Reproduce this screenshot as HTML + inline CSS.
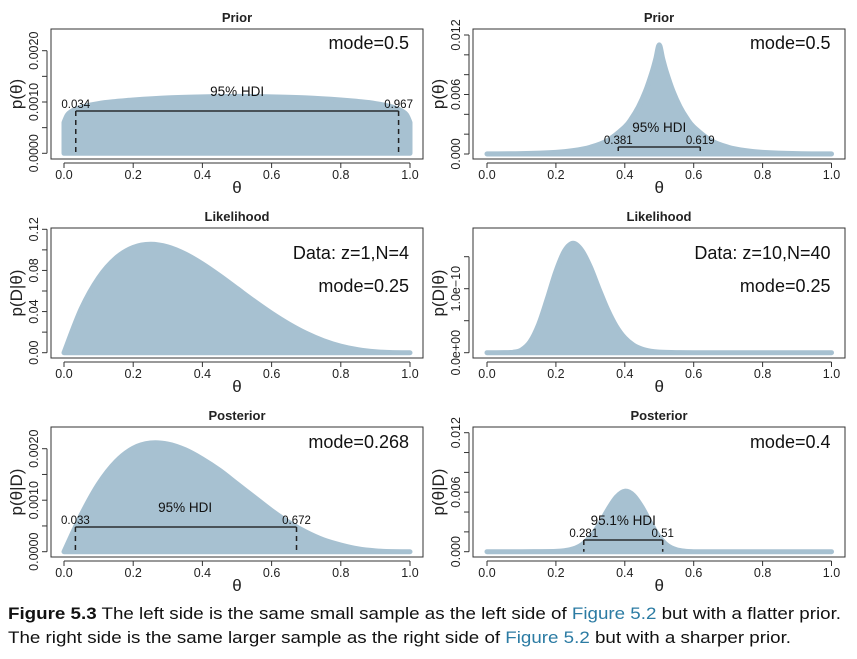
<!DOCTYPE html>
<html><head><meta charset="utf-8">
<style>
html,body{margin:0;padding:0;background:#fff;}
svg{display:block;font-family:"Liberation Sans",Arial,sans-serif;}
</style></head>
<body>
<svg id="fig" width="857" height="659" viewBox="0 0 857 659" xmlns="http://www.w3.org/2000/svg">
<text x="8" y="619" font-size="17" fill="#111" textLength="833" lengthAdjust="spacingAndGlyphs"><tspan font-weight="bold">Figure 5.3</tspan>  The left side is the same small sample as the left side of <tspan fill="#2b7ba3">Figure 5.2</tspan> but with a flatter prior.</text>
<text x="8" y="643" font-size="17" fill="#111" textLength="783" lengthAdjust="spacingAndGlyphs">The right side is the same larger sample as the right side of <tspan fill="#2b7ba3">Figure 5.2</tspan> but with a sharper prior.</text>
</svg>
<script>
// ---- data ----
const thetaPriorL = [0,0.01,0.025,0.05,0.1,0.15,0.2,0.3,0.4,0.5,0.6,0.7,0.8,0.85,0.9,0.95,0.975,0.99,1];
const densPriorL = [0.0006,0.00075,0.00083,0.0009,0.00097,0.00101,0.00104,0.00108,0.0011,0.00111,0.0011,0.00108,0.00104,0.00101,0.00097,0.0009,0.00083,0.00075,0.0006];
const thetaPriorR = [0,0.1,0.2,0.25,0.3,0.35,0.4,0.42,0.44,0.46,0.48,0.49,0.5,0.51,0.52,0.54,0.56,0.58,0.6,0.65,0.7,0.75,0.8,0.9,1];
const densPriorR = [0.00001,0.00004,0.00017,0.00034,0.00068,0.00136,0.00273,0.00361,0.00478,0.00632,0.00835,0.0096,0.011,0.0096,0.00835,0.00632,0.00478,0.00361,0.00273,0.00136,0.00068,0.00034,0.00017,0.00004,0.00001];
const thetaLikL = [0,0.05,0.1,0.15,0.2,0.25,0.3,0.35,0.4,0.45,0.5,0.55,0.6,0.65,0.7,0.75,0.8,0.85,0.9,0.95,1];
const densLikL = [0,0.0429,0.0729,0.0921,0.1024,0.1055,0.1029,0.0961,0.0864,0.0749,0.0625,0.0501,0.0384,0.0279,0.0189,0.0117,0.0064,0.0029,0.0009,0.0001,0];
const thetaLikR = [0,0.05,0.075,0.1,0.125,0.15,0.175,0.2,0.225,0.25,0.275,0.3,0.325,0.35,0.375,0.4,0.425,0.45,0.475,0.5,0.55,0.6,0.8,1];
const densLikR = [0,0.0002e-10,0.0055e-10,0.0426e-10,0.17e-10,0.442e-10,0.842e-10,1.27e-10,1.59e-10,1.71e-10,1.60e-10,1.34e-10,0.999e-10,0.676e-10,0.415e-10,0.232e-10,0.119e-10,0.0556e-10,0.0236e-10,0.0091e-10,0.001e-10,0,0,0];
const thetaPostL = [0,0.05,0.1,0.15,0.2,0.25,0.3,0.35,0.4,0.45,0.5,0.55,0.6,0.65,0.7,0.75,0.8,0.85,0.9,0.95,1];
const densPostL = [0,0.00072,0.00132,0.00175,0.00201,0.00211,0.00209,0.00198,0.0018,0.00158,0.00132,0.00106,0.0008,0.00057,0.00038,0.00023,0.00013,0.000055,0.000016,0.000002,0];
const thetaPostR = [0,0.1,0.15,0.2,0.225,0.25,0.275,0.3,0.325,0.35,0.375,0.4,0.425,0.45,0.475,0.5,0.525,0.55,0.575,0.6,0.7,1];
const densPostR = [0,0,0.000005,0.00003,0.0001,0.00028,0.0007,0.0015,0.0027,0.0042,0.0055,0.0061,0.0057,0.0045,0.0029,0.0015,0.0006,0.0002,0.00005,0,0,0];
const xTicks = [0,0.2,0.4,0.6,0.8,1];
const xTickLabels = ["0.0","0.2","0.4","0.6","0.8","1.0"];

const NS="http://www.w3.org/2000/svg";
const svg=document.getElementById('fig');
const FILL="#a7c1d1";
function el(tag,attrs,parent){const e=document.createElementNS(NS,tag);for(const k in attrs)e.setAttribute(k,attrs[k]);(parent||svg).appendChild(e);return e;}
function txt(s,attrs,parent){const e=el('text',attrs,parent);e.textContent=s;return e;}

const panels=[
 {name:'prior-left',title:'Prior',bx:51,by:29,x0:64,x1:410,y0v:153.3,yref:50.7,yrefv:0.002,yt:[0,0.0005,0.001,0.0015,0.002],yl:[[0,'0.0000'],[0.001,'0.0010'],[0.002,'0.0020']],ylab:'p(θ)',th:thetaPriorL,d:densPriorL,
  notes:[['mode=0.5',42]],hdi:{lo:0.034,hi:0.967,y:111,lab:'95% HDI',loT:'0.034',hiT:'0.967',dash:true}},
 {name:'prior-right',title:'Prior',bx:473,by:29,x0:487,x1:831.5,y0v:154,yref:35,yrefv:0.012,yt:[0,0.002,0.004,0.006,0.008,0.01,0.012],yl:[[0,'0.000'],[0.006,'0.006'],[0.012,'0.012']],ylab:'p(θ)',th:thetaPriorR,d:densPriorR,
  notes:[['mode=0.5',42]],hdi:{lo:0.381,hi:0.619,y:147,lab:'95% HDI',loT:'0.381',hiT:'0.619',dash:false}},
 {name:'likelihood-left',title:'Likelihood',bx:51,by:228,x0:64,x1:410,y0v:352.7,yref:229.3,yrefv:0.12,yt:[0,0.02,0.04,0.06,0.08,0.1,0.12],yl:[[0,'0.00'],[0.04,'0.04'],[0.08,'0.08'],[0.12,'0.12']],ylab:'p(D|θ)',th:thetaLikL,d:densLikL,
  notes:[['Data: z=1,N=4',252],['mode=0.25',285]]},
 {name:'likelihood-right',title:'Likelihood',bx:473,by:228,x0:487,x1:831.5,y0v:352.7,yref:288.7,yrefv:1e-10,yt:[0,0.5e-10,1e-10,1.5e-10],yl:[[0,'0.0e+00'],[1e-10,'1.0e−10']],ylab:'p(D|θ)',th:thetaLikR,d:densLikR,
  notes:[['Data: z=10,N=40',252],['mode=0.25',285]]},
 {name:'posterior-left',title:'Posterior',bx:51,by:427,x0:64,x1:410,y0v:551.7,yref:448.7,yrefv:0.002,yt:[0,0.0005,0.001,0.0015,0.002],yl:[[0,'0.0000'],[0.001,'0.0010'],[0.002,'0.0020']],ylab:'p(θ|D)',th:thetaPostL,d:densPostL,
  notes:[['mode=0.268',441]],hdi:{lo:0.033,hi:0.672,y:527,lab:'95% HDI',loT:'0.033',hiT:'0.672',dash:true,labX:0.35}},
 {name:'posterior-right',title:'Posterior',bx:473,by:427,x0:487,x1:831.5,y0v:551.7,yref:432.7,yrefv:0.012,yt:[0,0.002,0.004,0.006,0.008,0.01,0.012],yl:[[0,'0.000'],[0.006,'0.006'],[0.012,'0.012']],ylab:'p(θ|D)',th:thetaPostR,d:densPostR,
  notes:[['mode=0.4',441]],hdi:{lo:0.281,hi:0.51,y:540,lab:'95.1% HDI',loT:'0.281',hiT:'0.51',dash:true,short:true}}
];

panels.forEach(p=>{
  const g=el('g',{});
  
  
  const X=v=>p.x0+(p.x1-p.x0)*v;
  const Y=v=>p.y0v-(p.y0v-p.yref)*v/p.yrefv;
  const bw=372,bh=130;
  // density area (Catmull-Rom smoothed)
  const pts=p.th.map((t,i)=>[X(t),Y(p.d[i])]);
  let dstr=`M${X(p.th[0])},${Y(0)} L${pts[0][0]},${pts[0][1]}`;
  for(let i=0;i<pts.length-1;i++){
    const a=pts[Math.max(0,i-1)],b=pts[i],c=pts[i+1],e=pts[Math.min(pts.length-1,i+2)];
    let c1y=b[1]+(c[1]-a[1])/6, c2y=c[1]-(e[1]-b[1])/6;
    const base=Y(0);c1y=Math.min(c1y,base);c2y=Math.min(c2y,base);
    dstr+=` C${b[0]+(c[0]-a[0])/6},${c1y} ${c[0]-(e[0]-b[0])/6},${c2y} ${c[0]},${c[1]}`;
  }
  dstr+=` L${X(p.th[p.th.length-1])},${Y(0)} Z`;
  const area=el('path',{d:dstr,fill:FILL,stroke:FILL,'stroke-width':5,'stroke-linejoin':'round','stroke-linecap':'round'},g);
  
  
  // box
  const box=el('rect',{x:p.bx,y:p.by,width:bw,height:bh,fill:'none',stroke:'#333','stroke-width':1},g);
  
  
  // title
  const tt=txt(p.title,{x:p.bx+bw/2,y:p.by-7,'text-anchor':'middle','font-size':13,'font-weight':'bold',fill:'#222'},g);
  
  
  // x axis
  const xa=el('line',{x1:X(0),x2:X(1),y1:p.by+bh+4,y2:p.by+bh+4,stroke:'#333'},g);
  
  
  xTicks.forEach((t,i)=>{
    const tk=el('line',{x1:X(t),x2:X(t),y1:p.by+bh+4,y2:p.by+bh+9,stroke:'#333'},g);
    
    
    const tl=txt(xTickLabels[i],{x:X(t),y:p.by+bh+20,'text-anchor':'middle','font-size':12.5,fill:'#222'},g);
    
    
  });
  const xt=txt('θ',{x:X(0.5),y:p.by+bh+34,'text-anchor':'middle','font-size':17,fill:'#222'},g);
  
  
  // y axis
  const yax=p.bx-4;
  const ya=el('line',{x1:yax,x2:yax,y1:Y(p.yt[0]),y2:Y(p.yt[p.yt.length-1]),stroke:'#333'},g);
  
  
  p.yt.forEach(t=>{
    const tk=el('line',{x1:yax-5,x2:yax,y1:Y(t),y2:Y(t),stroke:'#333'},g);
    
    
  });
  p.yl.forEach(([v,s])=>{
    const lx=yax-9,ly=Y(v);
    const tl=txt(s,{x:lx,y:ly,'text-anchor':'middle','font-size':12.5,fill:'#222',transform:`rotate(-90 ${lx} ${ly})`},g);
    
    
  });
  const ylx=p.bx-29,yly=p.by+bh/2;
  const yt=txt(p.ylab,{x:ylx,y:yly,'text-anchor':'middle','font-size':17,fill:'#222',transform:`rotate(-90 ${ylx} ${yly})`},g);
  
  
  // notes
  p.notes.forEach(([s,y])=>{
    const n=txt(s,{x:X(1)-1,y:y+7,'text-anchor':'end','font-size':18,fill:'#111'},g);
    
    
  });
  // HDI
  if(p.hdi){
    const h=p.hdi;
    const hl=el('line',{x1:X(h.lo),x2:X(h.hi),y1:h.y,y2:h.y,stroke:'#111','stroke-width':1.2},g);
    
    
    [h.lo,h.hi].forEach(v=>{
      const y2=h.dash?Y(0):h.y+4;
      const dl=el('line',{x1:X(v),x2:X(v),y1:h.y,y2:y2,stroke:'#222','stroke-width':1.5,'stroke-dasharray':h.dash?'5,4':'none'},g);
      
      
    });
    const lx=h.labX!==undefined?X(h.labX):X((h.lo+h.hi)/2);
    const hlab=txt(h.lab,{x:lx,y:h.y-15,'text-anchor':'middle','font-size':13.5,fill:'#111'},g);
    
    
    const l1=txt(h.loT,{x:X(h.lo),y:h.y-3,'text-anchor':'middle','font-size':11.5,fill:'#111'},g);
    
    
    const l2=txt(h.hiT,{x:X(h.hi),y:h.y-3,'text-anchor':'middle','font-size':11.5,fill:'#111'},g);
    
    
  }
});
</script>
</body></html>
